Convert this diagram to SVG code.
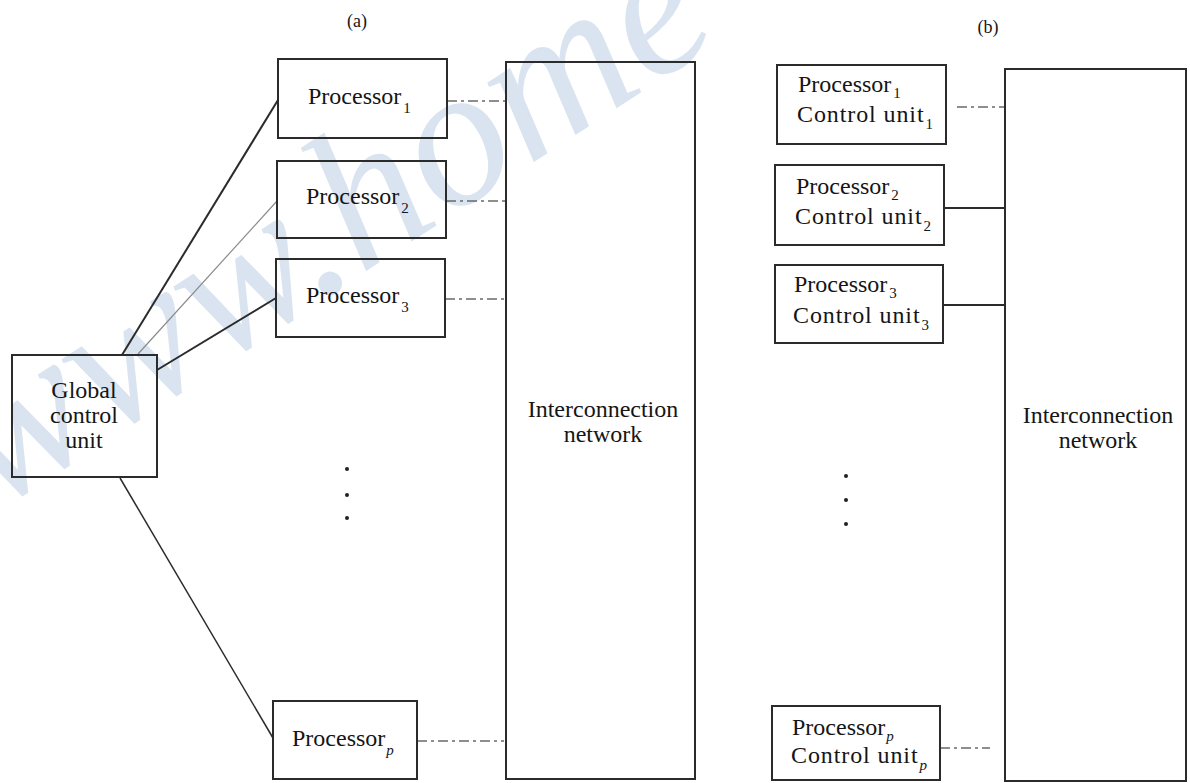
<svg xmlns="http://www.w3.org/2000/svg" width="1190" height="783" viewBox="0 0 1190 783">
<style>
.box{fill:none;stroke:#2b2b2b;stroke-width:2}
.t{font-family:"Liberation Serif","Times New Roman",serif;font-size:24px;fill:#151515}
.sub{font-size:15px}
.subi{font-size:15px;font-style:italic}
.lbl{font-family:"Liberation Serif","Times New Roman",serif;font-size:18px;fill:#151515}
.ln{stroke:#2b2b2b;stroke-width:2;fill:none}
.lnt{stroke:#8a8a8a;stroke-width:1.2;fill:none}
.dash{stroke:#6a6a6a;stroke-width:1.5;fill:none;stroke-dasharray:10 4 3 4}
.dot{fill:#222}
</style>
<rect width="1190" height="783" fill="#ffffff"/>
<g id="watermark" opacity="0.7">
<text x="-5" y="512" transform="rotate(-33 -5 512)" font-family="Liberation Serif, serif" font-style="italic" font-size="200" fill="#c9d9ea">www.home</text>
</g>
<text class="lbl" x="357" y="27" text-anchor="middle">(a)</text>
<text class="lbl" x="988" y="33" text-anchor="middle">(b)</text>
<g id="connectors">
<line class="ln" x1="122" y1="355" x2="278" y2="100"/>
<line class="lnt" x1="138" y1="354" x2="277" y2="201"/>
<line class="ln" x1="157" y1="370" x2="276" y2="298"/>
<line class="ln" x1="120" y1="478" x2="273" y2="738" style="stroke-width:1.5"/>
<line class="dash" x1="447" y1="101" x2="506" y2="101"/>
<line class="dash" x1="446" y1="201" x2="506" y2="201"/>
<line class="dash" x1="445" y1="299" x2="506" y2="299"/>
<line class="dash" x1="417" y1="741" x2="504" y2="741"/>
<line class="dash" x1="957" y1="107" x2="1005" y2="107"/>
<line class="ln" x1="944" y1="208" x2="1005" y2="208"/>
<line class="ln" x1="943" y1="305" x2="1005" y2="305"/>
<line class="dash" x1="940" y1="748" x2="990" y2="748"/>
</g>
<g id="gcu">
<rect class="box" x="12" y="355" width="145" height="122"/>
<text class="t" x="84" y="398" text-anchor="middle">Global</text>
<text class="t" x="84" y="423" text-anchor="middle">control</text>
<text class="t" x="84" y="448" text-anchor="middle">unit</text>
</g>
<g id="a-proc1">
<rect class="box" x="278" y="59" width="169" height="79"/>
<text class="t" x="308" y="104">Processor<tspan class="sub" dx="2" dy="9">1</tspan></text>
</g>
<g id="a-proc2">
<rect class="box" x="277" y="161" width="169" height="77"/>
<text class="t" x="306" y="204">Processor<tspan class="sub" dx="2" dy="9">2</tspan></text>
</g>
<g id="a-proc3">
<rect class="box" x="276" y="259" width="169" height="78"/>
<text class="t" x="306" y="303">Processor<tspan class="sub" dx="2" dy="9">3</tspan></text>
</g>
<g id="a-dots">
<circle class="dot" cx="347" cy="469" r="2"/>
<circle class="dot" cx="347" cy="495" r="2"/>
<circle class="dot" cx="347" cy="518" r="2"/>
</g>
<g id="a-procp">
<rect class="box" x="273" y="701" width="144" height="78"/>
<text class="t" x="292" y="746">Processor<tspan class="subi" dx="1" dy="9">p</tspan></text>
</g>
<g id="a-network">
<rect class="box" x="506" y="62" width="189" height="717"/>
<text class="t" x="603" y="417" text-anchor="middle">Interconnection</text>
<text class="t" x="603" y="442" text-anchor="middle">network</text>
</g>
<g id="b-pc1">
<rect class="box" x="777" y="65" width="169" height="79"/>
<text class="t" x="798" y="92">Processor<tspan class="sub" dx="2" dy="6">1</tspan></text>
<text class="t" x="797" y="122" letter-spacing="0.9">Control unit<tspan class="sub" dx="1" dy="7">1</tspan></text>
</g>
<g id="b-pc2">
<rect class="box" x="775" y="165" width="169" height="80"/>
<text class="t" x="796" y="194">Processor<tspan class="sub" dx="2" dy="6">2</tspan></text>
<text class="t" x="795" y="224" letter-spacing="0.9">Control unit<tspan class="sub" dx="1" dy="7">2</tspan></text>
</g>
<g id="b-pc3">
<rect class="box" x="775" y="265" width="168" height="78"/>
<text class="t" x="794" y="292">Processor<tspan class="sub" dx="2" dy="6">3</tspan></text>
<text class="t" x="793" y="323" letter-spacing="0.9">Control unit<tspan class="sub" dx="1" dy="7">3</tspan></text>
</g>
<g id="b-dots">
<circle class="dot" cx="846" cy="476" r="2"/>
<circle class="dot" cx="846" cy="500" r="2"/>
<circle class="dot" cx="846" cy="524" r="2"/>
</g>
<g id="b-pcp">
<rect class="box" x="772" y="706" width="168" height="74"/>
<text class="t" x="792" y="735">Processor<tspan class="subi" dx="1" dy="6">p</tspan></text>
<text class="t" x="791" y="763" letter-spacing="0.9">Control unit<tspan class="subi" dx="1" dy="7">p</tspan></text>
</g>
<g id="b-network">
<rect class="box" x="1005" y="69" width="181" height="712"/>
<text class="t" x="1098" y="423" text-anchor="middle">Interconnection</text>
<text class="t" x="1098" y="448" text-anchor="middle">network</text>
</g>
</svg>
